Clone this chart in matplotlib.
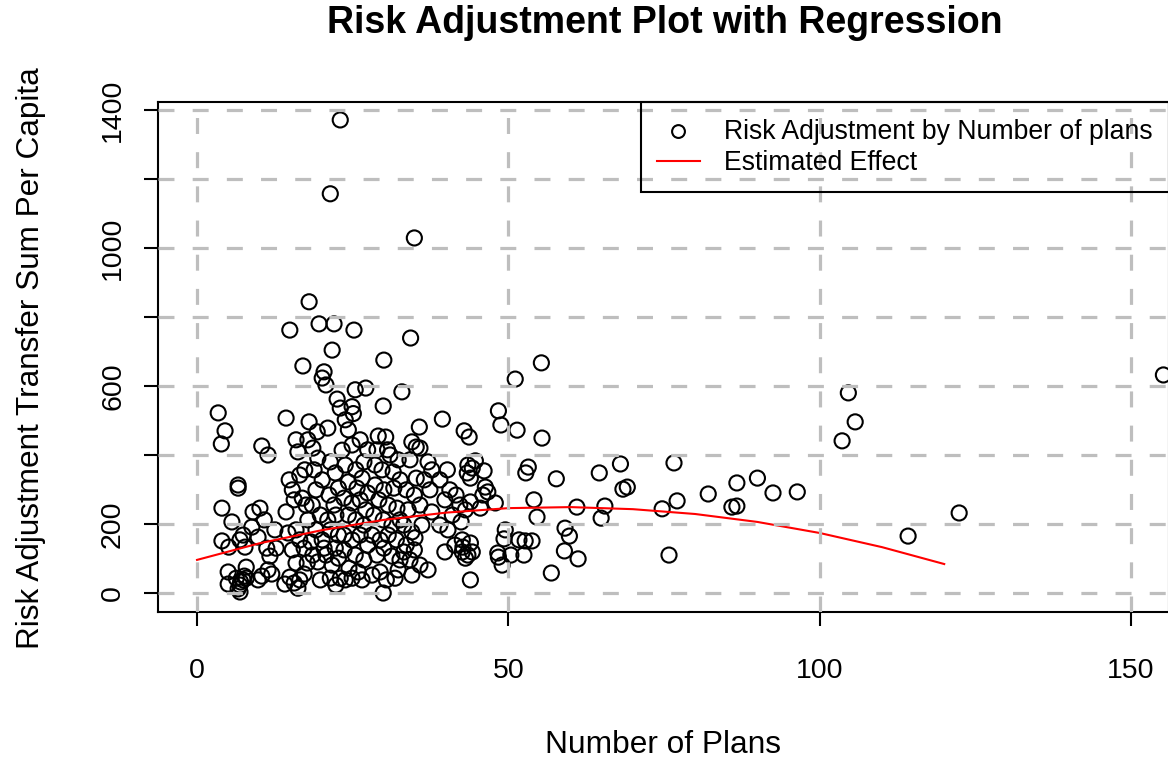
import numpy as np
import matplotlib
matplotlib.use("Agg")
import matplotlib.pyplot as plt

plt.rcParams['font.family'] = ['Liberation Sans', 'DejaVu Sans']

# number of plans vs risk adjustment transfer sum per capita
n_plans = [
    23.0, 21.4, 34.9, 18.0, 14.9, 19.6, 22.0, 25.2, 21.7, 34.3, 30.0, 17.0, 20.4, 20.1, 20.7,
    55.3, 51.1, 25.4, 27.1, 32.9, 104.6, 155.2, 105.7, 103.6, 122.4, 114.2,
    3.4, 4.5, 3.9, 14.3, 10.4, 11.4, 22.5, 23.0, 24.9, 25.1, 29.9, 39.4, 48.4, 48.8, 51.4,
    35.7, 42.9, 43.7, 34.5, 35.2, 18.0, 19.3, 21.0, 23.8, 24.3, 55.4, 6.6, 6.6,
    53.2, 52.8, 57.7, 64.6, 68.0, 68.4, 69.1, 76.6, 77.1, 74.7, 82.1, 86.7, 90.0, 92.5, 96.4,
    85.9, 86.7, 54.1, 54.6, 61.0, 65.5, 64.9, 59.1, 59.8, 59.0, 61.2, 56.9, 75.8,
    49.5, 49.3, 51.7, 52.7, 53.8, 48.3, 48.4, 50.4, 52.5, 49.0,
    4.0, 4.0, 5.1, 5.6, 5.0, 5.0, 6.3, 6.9, 6.9, 7.4, 7.6, 6.9, 7.7, 7.4, 7.9, 7.9, 7.0, 6.6,
    9.0, 10.1, 8.8, 9.8, 10.8, 11.2, 10.4, 11.4, 12.0, 9.8, 12.5, 11.7, 12.7,
    15.9, 16.2, 14.8, 15.3, 14.3, 15.6, 16.5, 17.3, 16.9, 17.5, 14.6, 15.9, 16.5, 15.3, 17.2,
    14.9, 15.6, 16.5, 16.2, 17.2, 17.7, 15.9, 14.1, 17.8, 17.8,
    18.6, 19.4, 18.8, 20.1, 21.4, 22.2, 19.1, 21.2, 22.0, 22.7, 18.5, 19.8, 21.0, 22.3, 19.1,
    20.1, 21.4, 22.7, 18.6, 19.4, 20.7, 21.7, 22.7, 19.8, 21.4, 22.3, 18.3, 20.4, 22.2,
    23.3, 24.9, 26.2, 23.8, 25.5, 26.8, 27.4, 24.3, 25.7, 26.5, 27.4, 23.6, 24.9, 26.2, 27.1,
    24.3, 25.5, 26.8, 23.6, 24.9, 26.2, 27.4, 23.6, 25.4, 26.8, 24.4, 25.9, 23.8, 24.9, 26.5, 23.0,
    29.1, 30.3, 31.0, 28.9, 30.6, 28.6, 29.7, 32.3, 31.5, 28.6, 30.0, 31.6, 32.6, 29.2, 30.7,
    32.1, 28.4, 29.9, 31.3, 32.6, 28.1, 29.4, 30.7, 32.0, 28.9, 30.0, 31.3, 32.6, 29.4, 30.4,
    31.8, 29.9, 32.3, 28.1,
    35.8, 37.1, 37.7, 34.2, 35.2, 36.5, 33.6, 34.9, 37.4, 33.9, 35.8, 37.7, 33.2, 34.5, 36.1,
    33.6, 34.9, 34.2, 35.8, 37.1, 34.5, 33.2, 35.0,
    40.2, 39.0, 40.6, 41.6, 39.8, 42.2, 41.0, 39.0, 40.3, 42.4, 41.4, 42.6, 39.8, 43.5, 44.2,
    44.7, 46.1, 43.9, 43.4, 46.3, 46.7, 45.9, 47.9, 45.5, 43.9, 43.1, 42.6, 42.7, 43.9, 44.2,
    43.5, 43.1, 43.9,
]
risk_adj = [
    1371, 1157, 1029, 844, 762, 780, 780, 762, 704, 739, 675, 658, 641, 623, 603,
    667, 620, 589, 594, 583, 580, 632, 496, 441, 232, 165,
    522, 470, 432, 507, 426, 400, 562, 536, 540, 520, 542, 504, 528, 487, 472,
    481, 470, 452, 438, 423, 496, 467, 478, 502, 473, 449, 313, 304,
    365, 348, 331, 348, 374, 301, 307, 377, 267, 244, 287, 319, 333, 290, 293,
    249, 252, 270, 220, 249, 252, 217, 188, 165, 122, 99, 58, 110,
    183, 157, 154, 151, 151, 116, 104, 110, 110, 81,
    246, 151, 133, 206, 61, 26, 43, 23, 3, 38, 49, 154, 133, 168, 75, 43, 32, 12,
    235, 246, 191, 162, 212, 130, 49, 67, 55, 38, 183, 107, 130,
    444, 409, 328, 299, 235, 270, 342, 357, 275, 255, 174, 183, 154, 125, 130,
    46, 29, 38, 14, 55, 87, 87, 26, 212, 444,
    420, 391, 357, 328, 380, 348, 299, 284, 255, 304, 255, 226, 212, 226, 183,
    154, 183, 168, 110, 90, 110, 81, 101, 38, 43, 23, 148, 130, 130,
    414, 429, 444, 371, 357, 380, 415, 322, 304, 333, 290, 275, 261, 270, 241,
    226, 212, 197, 168, 154, 168, 139, 125, 110, 96, 72, 61, 38, 43, 38, 43,
    455, 452, 400, 415, 415, 371, 357, 386, 351, 313, 299, 304, 328, 270, 255,
    246, 226, 212, 197, 212, 168, 154, 168, 154, 110, 130, 107, 96, 61, 38,
    43, 0, 67, 52,
    420, 380, 357, 386, 333, 328, 299, 284, 299, 241, 255, 235, 197, 177, 197,
    139, 125, 96, 81, 67, 52, 119, 160,
    357, 328, 299, 284, 270, 255, 226, 197, 183, 206, 139, 119, 119, 371, 362,
    383, 354, 333, 348, 307, 293, 284, 261, 246, 264, 241, 154, 133, 145, 119,
    110, 101, 38,
]

# estimated effect curve
fit_x = [0, 10, 20, 30, 40, 50, 60, 70, 80, 90, 100, 110, 120]
fit_y = [96, 144, 182, 212, 233, 246, 249, 243, 229, 206, 174, 133, 84]

x_ticks = [0, 50, 100, 150]
y_ticks = [0, 200, 400, 600, 800, 1000, 1200, 1400]
y_tick_labels = ["0", "200", "", "600", "", "1000", "", "1400"]

W, H = 1168, 763
fig = plt.figure(figsize=(W / 100, H / 100), dpi=100)
ax = fig.add_axes([158 / W, 1 - 612 / H, 1011 / W, 510 / H])

ax.scatter(n_plans, risk_adj, s=118, facecolors='none', edgecolors='black',
           linewidths=1.5, zorder=2, label="Risk Adjustment by Number of plans")
ax.plot(fit_x, fit_y, color='red', lw=1.5, zorder=3, label="Estimated Effect")

ax.set_xlim(-6.27, 156.1)
ax.set_ylim(-55, 1423)

# grey dashed grid at the tick positions
for xv in x_ticks:
    ax.axvline(xv, color='#BEBEBE', lw=2.3, dashes=(5, 5.7), zorder=4)
for yv in y_ticks:
    ax.axhline(yv, color='#BEBEBE', lw=2.3, dashes=(5, 5.7), zorder=4)

ax.set_xticks(x_ticks)
ax.set_xticklabels([str(v) for v in x_ticks])
ax.set_yticks(y_ticks)
ax.set_yticklabels(y_tick_labels, rotation=90, va='center')
ax.tick_params(axis='both', length=10, width=1.5, labelsize=20.5, direction='out')
ax.tick_params(axis='x', pad=23)
ax.tick_params(axis='y', pad=13)
for sp in ax.spines.values():
    sp.set_linewidth(1.5)

leg = ax.legend(loc='upper right', fontsize=19.2, frameon=True, fancybox=False,
                edgecolor='black', facecolor='none', framealpha=1,
                borderaxespad=0, borderpad=0.62, handlelength=1.6,
                handletextpad=0.9, labelspacing=0.2, markerscale=0.85)
leg.get_frame().set_linewidth(1.5)

fig.text(665 / W, 1 - 23 / H, "Risk Adjustment Plot with Regression",
         ha='center', va='center', fontsize=27, fontweight='bold')
fig.text(663 / W, 1 - 745 / H, "Number of Plans", ha='center', va='center', fontsize=22.8)
fig.text(31 / W, 1 - 358 / H, "Risk Adjustment Transfer Sum Per Capita",
         ha='center', va='center', rotation=90, fontsize=22.7)

fig.savefig("out.png", dpi=100)
